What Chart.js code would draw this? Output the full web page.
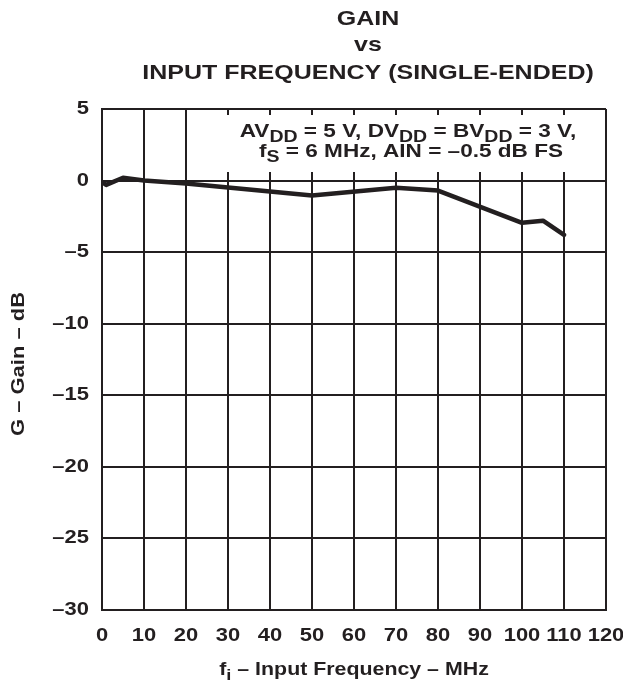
<!DOCTYPE html>
<html>
<head>
<meta charset="utf-8">
<script src="https://cdn.jsdelivr.net/npm/chart.js@4/dist/chart.umd.min.js"></script>
<style>
  html, body { margin:0; padding:0; background:#fff; }
  #wrap { width:623px; height:690px; position:relative; }
</style>
</head>
<body>
<div id="wrap"><canvas id="chart" width="623" height="690"></canvas></div>
<script>
/* ── data ── */
const freqMHz = [0, 1, 5, 10, 20, 50, 70, 80, 100, 105, 110];
const gainDb  = [-0.1, -0.3, 0.2, 0, -0.2, -1.05, -0.5, -0.7, -2.95, -2.8, -3.8];
const xTicks  = [0, 10, 20, 30, 40, 50, 60, 70, 80, 90, 100, 110, 120];
const yTicks  = [5, 0, -5, -10, -15, -20, -25, -30];

const INK  = '#231f20';
const FONT = '"Liberation Sans", Arial, Helvetica, sans-serif';
const SX   = 1.22;   // the original lettering is a bit wider than Arial

/* ── text helpers (horizontally stretched) ── */
function stretchText(ctx, txt, x, y, size, align){
  ctx.save();
  ctx.font = `bold ${size}px ${FONT}`;
  const w = ctx.measureText(txt).width * SX;
  let left = x;
  if (align === 'center') left = x - w / 2;
  if (align === 'right') left = x - w;
  ctx.translate(left, y);
  ctx.scale(SX, 1);
  ctx.textAlign = 'left';
  ctx.fillText(txt, 0, 0);
  ctx.restore();
}

// [text, isSub] segments, centred at cx
function richText(ctx, segs, cx, y, size){
  const sub = Math.round(size * 0.85);
  let w = 0;
  segs.forEach(s => {
    ctx.font = `bold ${s[1] ? sub : size}px ${FONT}`;
    w += ctx.measureText(s[0]).width;
  });
  ctx.save();
  ctx.translate(cx - w * SX / 2, y);
  ctx.scale(SX, 1);
  ctx.textAlign = 'left';
  ctx.textBaseline = 'alphabetic';
  let x = 0;
  segs.forEach(s => {
    ctx.font = `bold ${s[1] ? sub : size}px ${FONT}`;
    ctx.fillText(s[0], x, s[1] ? 5 : 0);
    x += ctx.measureText(s[0]).width;
  });
  ctx.restore();
}

const decor = {
  id: 'decor',
  beforeDatasetsDraw(chart){
    const ctx = chart.ctx;
    const a = chart.chartArea;
    ctx.save();
    // white box behind the conditions note
    ctx.fillStyle = '#fff';
    ctx.fillRect(224, 115, a.right - 226, 57);
    ctx.fillStyle = INK;
    richText(ctx, [['AV',0],['DD',1],[' = 5 V, DV',0],['DD',1],[' = BV',0],['DD',1],[' = 3 V,',0]], 408, 137, 18.5);
    richText(ctx, [['f',0],['S',1],[' = 6 MHz, AIN = \u20130.5 dB FS',0]], 411, 157, 18.5);
    ctx.restore();
  },
  afterDraw(chart){
    const ctx = chart.ctx;
    const xs = chart.scales.x, ys = chart.scales.y;
    ctx.save();
    ctx.fillStyle = INK;

    // tick labels
    ctx.textBaseline = 'middle';
    xTicks.forEach(v => stretchText(ctx, String(v), xs.getPixelForValue(v), 636, 18, 'center'));
    yTicks.forEach(v => stretchText(ctx, String(v).replace('-', '\u2013'), 89, ys.getPixelForValue(v), 18, 'right'));

    // title
    stretchText(ctx, 'GAIN', 368, 19, 20.5, 'center');
    stretchText(ctx, 'vs', 368, 45, 20.5, 'center');
    stretchText(ctx, 'INPUT FREQUENCY (SINGLE-ENDED)', 368, 73, 20.5, 'center');

    // x axis title with subscript
    richText(ctx, [['f',0],['i',1],[' \u2013 Input Frequency \u2013 MHz',0]], 354, 675, 17.5);

    // y axis title
    ctx.translate(19, 364);
    ctx.rotate(-Math.PI / 2);
    ctx.textBaseline = 'middle';
    stretchText(ctx, 'G \u2013 Gain \u2013 dB', 0, 0, 18, 'center');
    ctx.restore();
  }
};

new Chart(document.getElementById('chart'), {
  type: 'line',
  data: {
    datasets: [{
      data: freqMHz.map((f, i) => ({ x: f, y: gainDb[i] })),
      borderColor: INK,
      borderWidth: 4.5,
      pointRadius: 0,
      tension: 0,
      borderJoinStyle: 'round',
      borderCapStyle: 'round'
    }]
  },
  options: {
    responsive: false,
    animation: false,
    devicePixelRatio: 1,
    layout: { padding: { top: 109, right: 17, left: 0, bottom: 0 } },
    plugins: { legend: { display: false }, tooltip: { enabled: false } },
    scales: {
      x: {
        type: 'linear',
        min: 0, max: 120,
        afterBuildTicks: s => { s.ticks = xTicks.map(v => ({ value: v })); },
        afterFit: s => { s.height = 80; },
        grid: { color: INK, lineWidth: 2, drawTicks: false },
        border: { color: INK, width: 2 },
        ticks: { display: false }
      },
      y: {
        min: -30, max: 5,
        afterBuildTicks: s => { s.ticks = yTicks.map(v => ({ value: v })); },
        afterFit: s => { s.width = 102; },
        grid: { color: INK, lineWidth: 2, drawTicks: false },
        border: { color: INK, width: 2 },
        ticks: { display: false }
      }
    }
  },
  plugins: [decor]
});
</script>
</body>
</html>
